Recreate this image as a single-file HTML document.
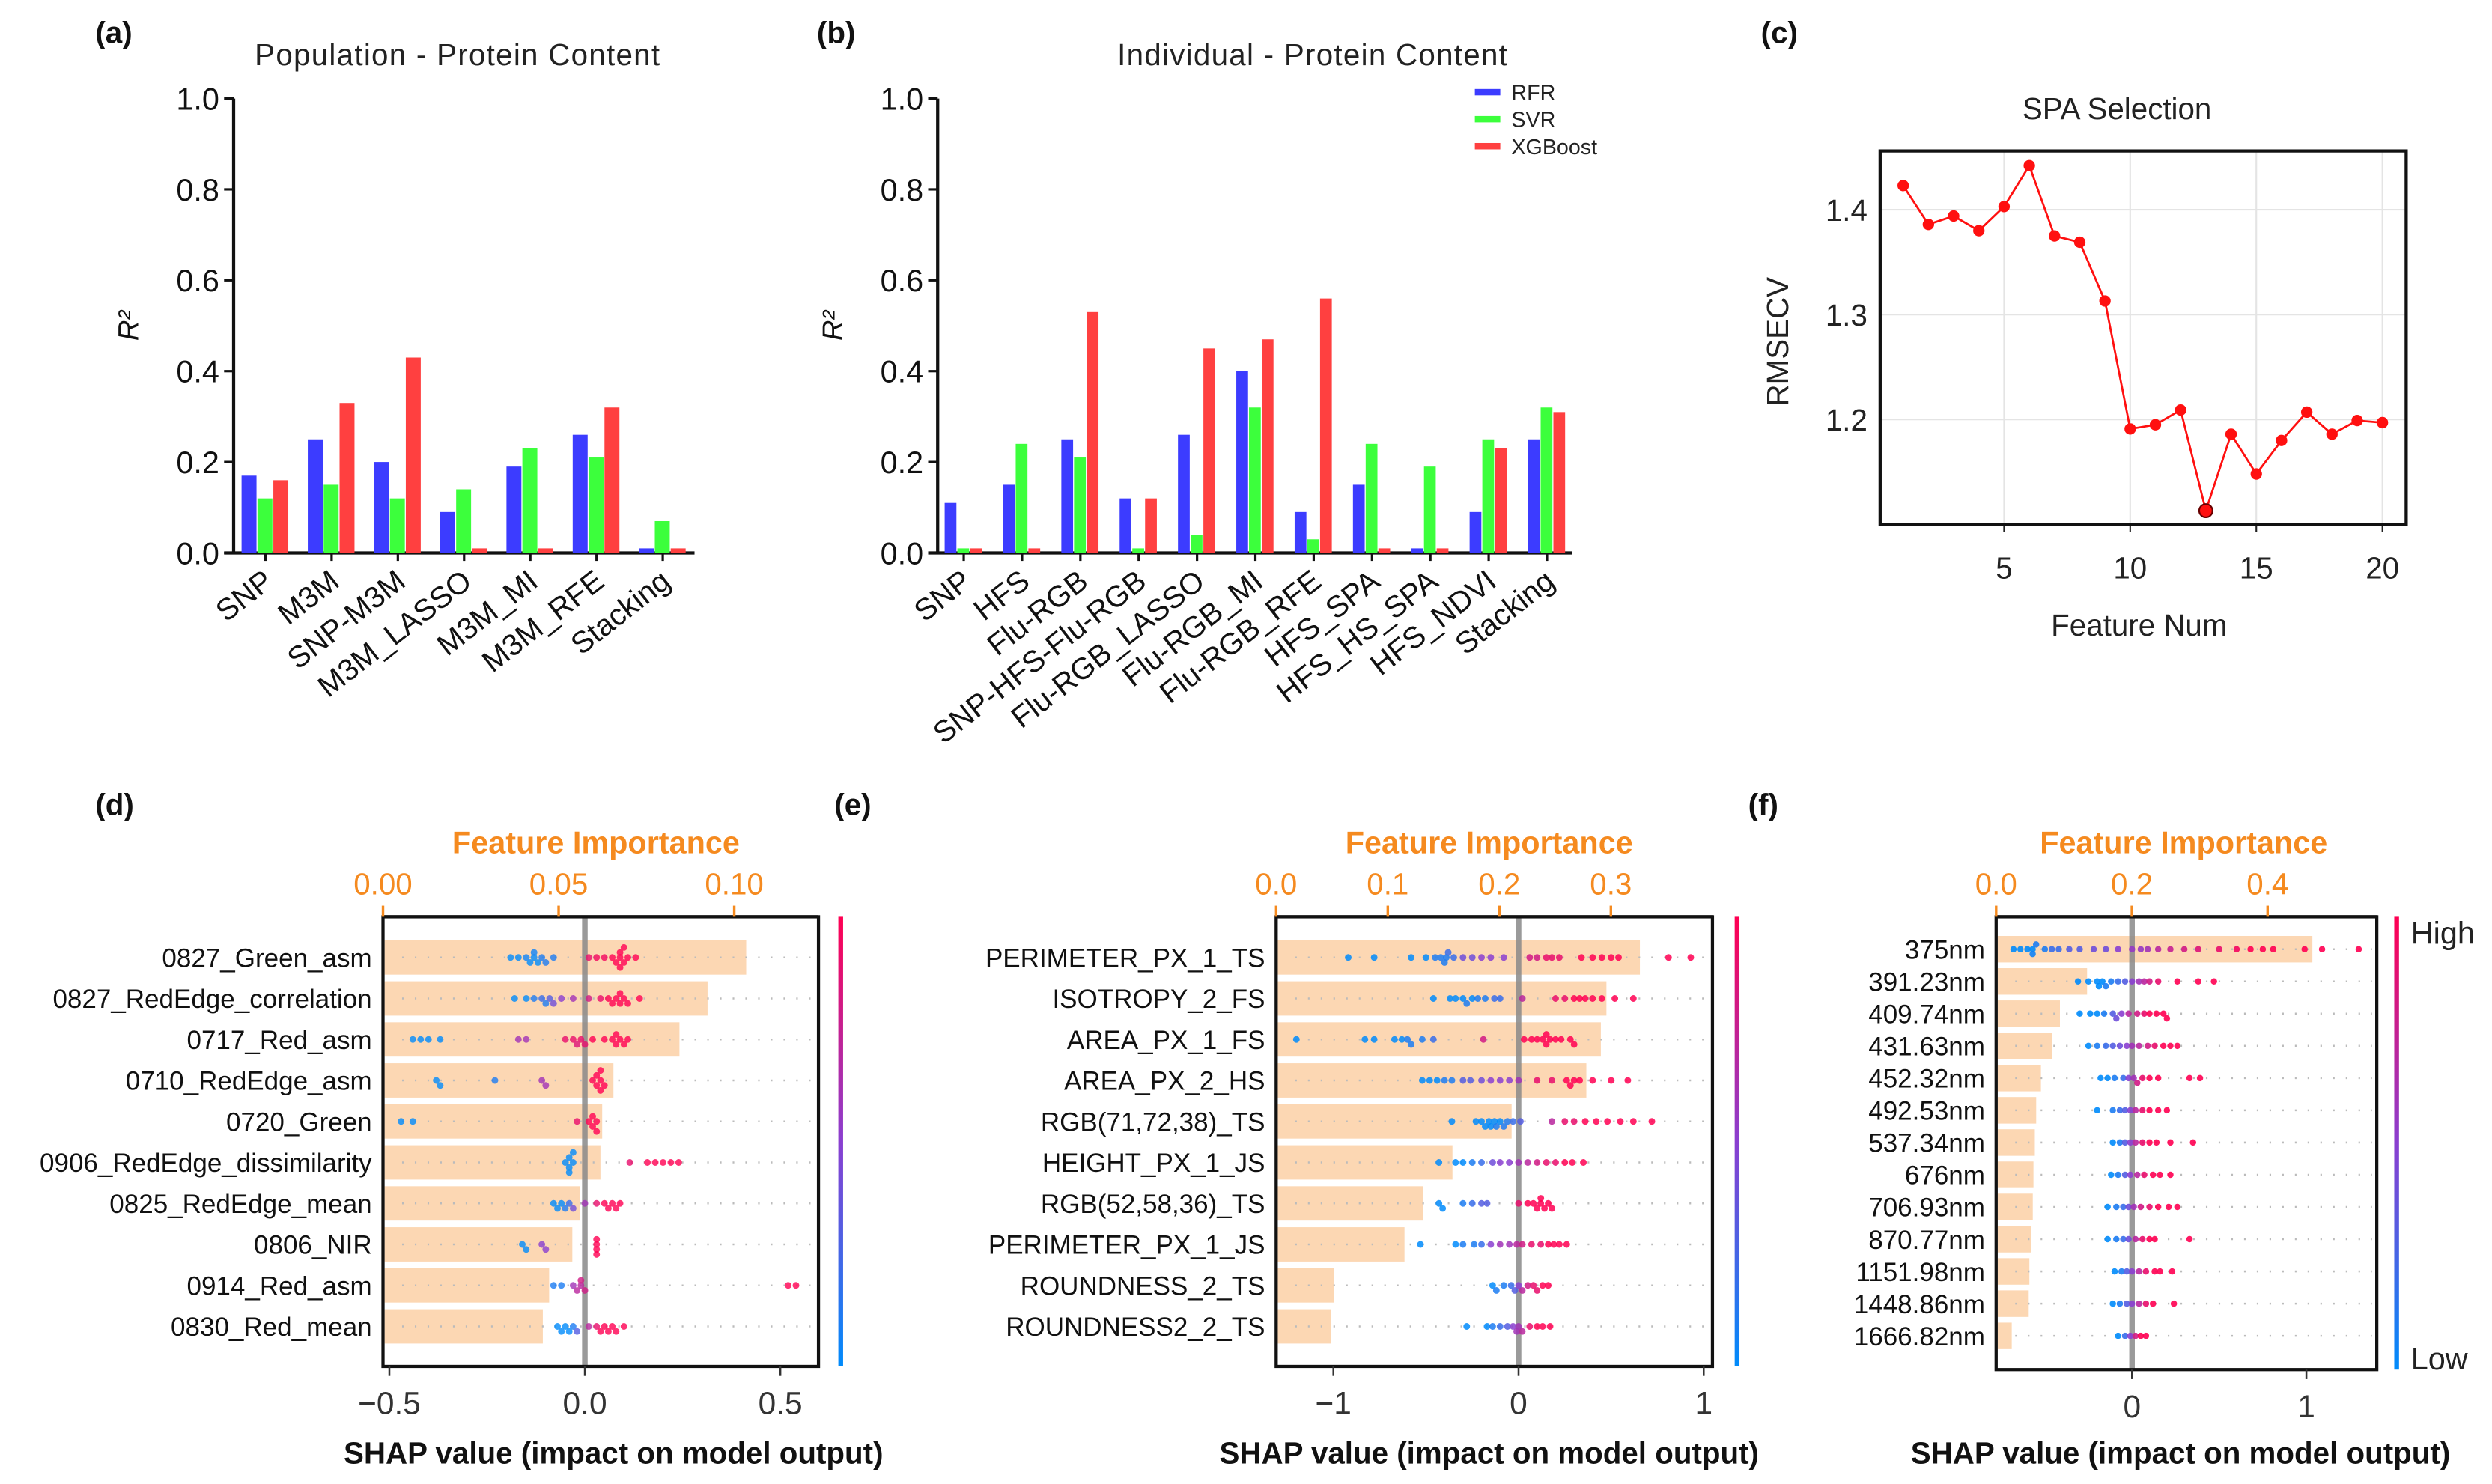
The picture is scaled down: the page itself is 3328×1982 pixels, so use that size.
<!DOCTYPE html>
<html><head><meta charset="utf-8"><title>Protein content figure</title>
<style>
html,body{margin:0;padding:0;background:#fff;}
svg{display:block;font-family:"Liberation Sans",sans-serif;}
</style></head>
<body>
<svg id="fig" xmlns="http://www.w3.org/2000/svg" width="3328" height="1982" viewBox="0 0 1568 934" preserveAspectRatio="none">
<defs>
<linearGradient id="cbar" x1="0" y1="0" x2="0" y2="1">
<stop offset="0" stop-color="#ff0052"/><stop offset="0.5" stop-color="#8a3fd0"/><stop offset="1" stop-color="#008bfb"/>
</linearGradient>
</defs>
<rect x="0" y="0" width="1568" height="934" fill="#fff"/>
<g font-weight="bold" font-size="19" fill="#111">
<text x="60" y="27">(a)</text>
<text x="514" y="27">(b)</text>
<text x="1108" y="27">(c)</text>
<text x="60" y="513">(d)</text>
<text x="525" y="513">(e)</text>
<text x="1100" y="513">(f)</text>
</g>
<g id="pa"></g>
<g id="pb"></g>
<g id="pc"></g>
<g id="pd"></g>
<g id="pe"></g>
<g id="pf"></g>
</svg>
<script>
// ---------- Panel (a) data ----------
const aCats = ["SNP","M3M","SNP-M3M","M3M_LASSO","M3M_MI","M3M_RFE","Stacking"];
const aRFR = [0.17,0.25,0.20,0.09,0.19,0.26,0.01];
const aSVR = [0.12,0.15,0.12,0.14,0.23,0.21,0.07];
const aXGB = [0.16,0.33,0.43,0.01,0.01,0.32,0.01];
// ---------- Panel (b) data ----------
const bCats = ["SNP","HFS","Flu-RGB","SNP-HFS-Flu-RGB","Flu-RGB_LASSO","Flu-RGB_MI","Flu-RGB_RFE","HFS_SPA","HFS_HS_SPA","HFS_NDVI","Stacking"];
const bRFR = [0.11,0.15,0.25,0.12,0.26,0.40,0.09,0.15,0.01,0.09,0.25];
const bSVR = [0.01,0.24,0.21,0.01,0.04,0.32,0.03,0.24,0.19,0.25,0.32];
const bXGB = [0.01,0.01,0.53,0.12,0.45,0.47,0.56,0.01,0.01,0.23,0.31];
const barTicks = [0.0,0.2,0.4,0.6,0.8,1.0];
// ---------- Panel (c) data ----------
const cFeat = [1,2,3,4,5,6,7,8,9,10,11,12,13,14,15,16,17,18,19,20];
const cRMSECV = [1.423,1.386,1.394,1.380,1.403,1.442,1.375,1.369,1.313,1.191,1.195,1.209,1.113,1.186,1.148,1.180,1.207,1.186,1.199,1.197];
const cXTicks = [5,10,15,20];
const cYTicks = [1.2,1.3,1.4];
// ---------- Panel (d) data ----------
const dLabels = ["0827_Green_asm","0827_RedEdge_correlation","0717_Red_asm","0710_RedEdge_asm","0720_Green","0906_RedEdge_dissimilarity","0825_RedEdge_mean","0806_NIR","0914_Red_asm","0830_Red_mean"];
const dImportance = [0.1034,0.0924,0.0844,0.0656,0.0624,0.0619,0.0561,0.0539,0.0473,0.0455];
const dImpTicks = [0.00,0.05,0.10];
const dImpTickLabels = ["0.00","0.05","0.10"];
const dShapTicks = [-0.5,0.0,0.5];
const dShapTickLabels = ["\u22120.5","0.0","0.5"];
const dPoints = [
[[-0.19,0],[-0.17,0],[-0.15,0.05],[-0.14,0],[-0.13,0],[-0.13,0.05],[-0.12,0],[-0.11,0.1],[-0.1,0.1],[-0.08,0.1],[0.01,0.9],[0.03,0.95],[0.05,0.95],[0.07,1],[0.08,1],[0.09,1],[0.09,1],[0.09,1],[0.1,1],[0.1,1],[0.11,1],[0.13,1]],
[[-0.18,0],[-0.15,0],[-0.13,0.1],[-0.11,0.2],[-0.1,0.1],[-0.09,0.3],[-0.08,0.4],[-0.06,0.5],[-0.03,0.6],[0.01,0.8],[0.04,0.9],[0.06,1],[0.07,1],[0.08,1],[0.09,1],[0.09,1],[0.1,1],[0.11,1],[0.14,1]],
[[-0.44,0],[-0.42,0],[-0.4,0],[-0.37,0],[-0.17,0.6],[-0.15,0.6],[-0.05,0.9],[-0.03,0.9],[-0.02,0.85],[-0.01,0.9],[0.0,0.9],[0.02,1],[0.05,1],[0.07,1],[0.08,1],[0.08,1],[0.09,1],[0.1,1],[0.11,1]],
[[-0.38,0],[-0.37,0],[-0.23,0.1],[-0.11,0.6],[-0.1,0.6],[0.02,1],[0.03,1],[0.03,1],[0.04,1],[0.04,1],[0.04,1],[0.05,1]],
[[-0.47,0],[-0.44,0],[-0.02,0.9],[0.01,1],[0.02,1],[0.02,1],[0.03,1],[0.03,1]],
[[-0.05,0],[-0.04,0],[-0.04,0],[-0.04,0],[-0.03,0],[-0.03,0],[0.115,0.9],[0.16,1],[0.18,1],[0.2,1],[0.22,1],[0.24,1]],
[[-0.08,0],[-0.07,0],[-0.06,0],[-0.05,0.1],[-0.04,0.2],[-0.03,0.4],[0.0,0.6],[0.03,0.9],[0.05,1],[0.06,1],[0.07,1],[0.08,1],[0.09,1]],
[[-0.16,0],[-0.15,0],[-0.11,0.5],[-0.1,0.5],[0.03,1],[0.03,1],[0.03,1],[0.03,1]],
[[-0.08,0.1],[-0.06,0.1],[-0.03,0.6],[-0.02,0.7],[-0.01,0.7],[-0.01,0.8],[0.0,0.8],[0.52,1],[0.54,1]],
[[-0.07,0],[-0.06,0],[-0.05,0],[-0.04,0],[-0.03,0.1],[-0.02,0.3],[0.01,0.7],[0.03,0.9],[0.04,1],[0.05,1],[0.06,1],[0.07,1],[0.08,1],[0.1,1]]
];
// ---------- Panel (e) data ----------
const eLabels = ["PERIMETER_PX_1_TS","ISOTROPY_2_FS","AREA_PX_1_FS","AREA_PX_2_HS","RGB(71,72,38)_TS","HEIGHT_PX_1_JS","RGB(52,58,36)_TS","PERIMETER_PX_1_JS","ROUNDNESS_2_TS","ROUNDNESS2_2_TS"];
const eImportance = [0.326,0.296,0.291,0.278,0.211,0.158,0.132,0.115,0.052,0.049];
const eImpTicks = [0.0,0.1,0.2,0.3];
const eImpTickLabels = ["0.0","0.1","0.2","0.3"];
const eShapTicks = [-1,0,1];
const eShapTickLabels = ["\u22121","0","1"];
const ePoints = [
[[-0.92,0],[-0.78,0],[-0.58,0],[-0.5,0],[-0.45,0.1],[-0.42,0.1],[-0.4,0.1],[-0.39,0.1],[-0.38,0.2],[-0.35,0.2],[-0.3,0.4],[-0.25,0.4],[-0.2,0.5],[-0.15,0.5],[-0.08,0.5],[0.06,0.8],[0.1,0.8],[0.15,0.9],[0.18,0.9],[0.22,0.9],[0.34,1],[0.4,1],[0.45,1],[0.5,1],[0.54,1],[0.81,1],[0.93,1]],
[[-0.46,0],[-0.37,0],[-0.34,0],[-0.3,0],[-0.28,0.1],[-0.25,0],[-0.22,0.1],[-0.18,0.1],[-0.13,0.2],[-0.1,0.2],[0.02,0.7],[0.2,0.9],[0.25,0.9],[0.3,1],[0.33,1],[0.36,1],[0.4,1],[0.45,1],[0.52,1],[0.62,1]],
[[-1.2,0],[-0.83,0],[-0.78,0],[-0.67,0],[-0.63,0],[-0.6,0.1],[-0.58,0.1],[-0.52,0.1],[-0.46,0.2],[-0.19,0.8],[0.03,1],[0.07,1],[0.1,1],[0.13,1],[0.15,1],[0.15,1],[0.17,1],[0.2,1],[0.23,1],[0.28,1],[0.3,1]],
[[-0.52,0],[-0.48,0],[-0.44,0],[-0.4,0.1],[-0.36,0.1],[-0.3,0.3],[-0.26,0.3],[-0.2,0.4],[-0.15,0.5],[-0.1,0.5],[-0.05,0.5],[0.0,0.6],[0.1,0.9],[0.18,0.9],[0.26,1],[0.28,1],[0.3,1],[0.33,1],[0.4,1],[0.5,1],[0.59,1]],
[[-0.36,0],[-0.23,0],[-0.2,0],[-0.18,0],[-0.16,0],[-0.15,0],[-0.13,0],[-0.12,0.1],[-0.1,0],[-0.08,0.1],[-0.06,0.1],[-0.03,0.2],[0.01,0.3],[0.18,0.7],[0.25,0.9],[0.3,0.9],[0.36,1],[0.42,1],[0.48,1],[0.55,1],[0.62,1],[0.72,1]],
[[-0.43,0],[-0.34,0],[-0.3,0],[-0.25,0.1],[-0.2,0.2],[-0.14,0.4],[-0.1,0.5],[-0.05,0.5],[0.0,0.6],[0.05,0.7],[0.1,0.8],[0.15,0.9],[0.2,0.9],[0.25,1],[0.29,1],[0.35,1]],
[[-0.43,0],[-0.41,0],[-0.3,0.1],[-0.25,0.2],[-0.2,0.3],[-0.17,0.3],[0.0,0.9],[0.05,1],[0.08,1],[0.1,1],[0.12,1],[0.12,1],[0.14,1],[0.16,1],[0.18,1]],
[[-0.53,0],[-0.34,0],[-0.3,0.1],[-0.24,0.1],[-0.2,0.2],[-0.15,0.5],[-0.1,0.6],[-0.05,0.6],[-0.01,0.7],[0.02,0.8],[0.07,0.9],[0.12,0.9],[0.16,1],[0.19,1],[0.22,1],[0.26,1]],
[[-0.14,0],[-0.12,0.1],[-0.08,0.1],[-0.04,0.2],[-0.02,0.3],[0.0,0.5],[0.02,0.7],[0.05,0.8],[0.08,0.9],[0.1,0.9],[0.13,1],[0.16,1]],
[[-0.28,0],[-0.17,0],[-0.14,0.1],[-0.1,0.2],[-0.06,0.3],[-0.03,0.5],[0.0,0.6],[-0.01,0.6],[0.02,0.7],[0.06,0.9],[0.1,1],[0.13,1],[0.17,1]]
];
// ---------- Panel (f) data ----------
const fLabels = ["375nm","391.23nm","409.74nm","431.63nm","452.32nm","492.53nm","537.34nm","676nm","706.93nm","870.77nm","1151.98nm","1448.86nm","1666.82nm"];
const fImportance = [0.466,0.134,0.094,0.082,0.066,0.059,0.057,0.055,0.054,0.051,0.049,0.048,0.023];
const fImpTicks = [0.0,0.2,0.4];
const fImpTickLabels = ["0.0","0.2","0.4"];
const fShapTicks = [0,1];
const fShapTickLabels = ["0","1"];
const fPoints = [
[[-0.68,0],[-0.64,0],[-0.6,0],[-0.57,0],[-0.57,0.05],[-0.55,0.1],[-0.5,0.1],[-0.46,0.2],[-0.42,0.2],[-0.36,0.3],[-0.3,0.3],[-0.22,0.4],[-0.15,0.4],[-0.08,0.5],[0.0,0.55],[0.05,0.55],[0.09,0.6],[0.15,0.7],[0.22,0.75],[0.3,0.8],[0.38,0.85],[0.5,0.9],[0.6,0.95],[0.68,1],[0.75,1],[0.81,1],[0.99,1],[1.09,1],[1.3,1]],
[[-0.31,0],[-0.25,0],[-0.2,0],[-0.19,0],[-0.17,0],[-0.15,0.1],[-0.12,0.1],[-0.08,0.2],[-0.04,0.3],[0.0,0.5],[0.04,0.6],[0.07,0.7],[0.1,0.8],[0.15,0.9],[0.26,1],[0.38,1],[0.47,1]],
[[-0.3,0],[-0.24,0],[-0.2,0],[-0.16,0.1],[-0.11,0.3],[-0.09,0.4],[-0.06,0.5],[-0.02,0.7],[0.03,0.8],[0.07,0.9],[0.1,1],[0.14,1],[0.18,1],[0.2,1]],
[[-0.25,0],[-0.2,0.1],[-0.15,0.2],[-0.11,0.3],[-0.07,0.4],[-0.03,0.5],[0.0,0.6],[0.04,0.7],[0.09,0.8],[0.13,0.9],[0.18,1],[0.22,1],[0.26,1]],
[[-0.18,0],[-0.14,0],[-0.1,0.1],[-0.05,0.2],[-0.02,0.5],[0.01,0.6],[0.03,0.8],[0.06,0.9],[0.1,1],[0.15,1],[0.33,1],[0.39,1]],
[[-0.2,0],[-0.11,0.1],[-0.07,0.2],[-0.04,0.3],[-0.01,0.5],[0.02,0.7],[0.06,0.9],[0.1,1],[0.15,1],[0.2,1]],
[[-0.11,0],[-0.07,0.1],[-0.04,0.3],[-0.01,0.5],[0.02,0.7],[0.06,0.9],[0.1,1],[0.14,1],[0.22,1],[0.35,1]],
[[-0.12,0],[-0.08,0.1],[-0.04,0.3],[-0.01,0.5],[0.03,0.7],[0.07,0.9],[0.12,1],[0.16,1],[0.22,1]],
[[-0.14,0],[-0.09,0.1],[-0.05,0.2],[-0.02,0.4],[0.01,0.6],[0.05,0.8],[0.1,0.9],[0.15,1],[0.21,1],[0.26,1]],
[[-0.14,0],[-0.09,0.1],[-0.05,0.2],[-0.02,0.4],[0.02,0.7],[0.06,0.9],[0.1,1],[0.13,1],[0.33,1]],
[[-0.1,0],[-0.06,0.1],[-0.03,0.3],[0.0,0.5],[0.04,0.7],[0.08,0.9],[0.13,1],[0.16,1],[0.23,1]],
[[-0.11,0],[-0.07,0.1],[-0.03,0.3],[0.0,0.5],[0.04,0.7],[0.08,0.9],[0.12,1],[0.24,1]],
[[-0.08,0],[-0.04,0.2],[-0.01,0.5],[0.02,0.8],[0.05,1],[0.08,1]]
];

const NS = "http://www.w3.org/2000/svg";
function mk(tag, attrs, parent){
  const e = document.createElementNS(NS, tag);
  for (const k in attrs) e.setAttribute(k, attrs[k]);
  parent.appendChild(e);
  return e;
}
function txt(parent, x, y, s, attrs){
  const t = mk("text", Object.assign({x:x, y:y}, attrs||{}), parent);
  t.textContent = s;
  return t;
}

// ---------- Bar charts ----------
function barChart(gid, title, titleX, cats, rfr, svr, xgb, axisX, axisEnd, c0, step, bw, legend){
  const g = document.getElementById(gid);
  const y0 = 348, y1 = 62;
  const yS = v => y0 - v*(y0-y1);
  const t = txt(g, titleX, 41, title, {"font-size":19,"text-anchor":"middle",fill:"#222","letter-spacing":"0.6"});
  
  
  const ya = mk("line", {x1:axisX, y1:y1, x2:axisX, y2:y0, stroke:"#111","stroke-width":2}, g);
  
  
  const xa = mk("line", {x1:axisX-6, y1:y0, x2:axisEnd, y2:y0, stroke:"#111","stroke-width":2}, g);
  
  
  barTicks.forEach(v => {
    const tk = mk("line", {x1:axisX-6, y1:yS(v), x2:axisX, y2:yS(v), stroke:"#111","stroke-width":1.5}, g);
    
    
    const tl = txt(g, axisX-9, yS(v)+7, v.toFixed(1), {"font-size":19.5,"text-anchor":"end",fill:"#111"});
    
    
  });
  const yl = txt(g, 0, 0, "R²", {"font-size":18,"font-style":"italic",fill:"#111","text-anchor":"middle",transform:`translate(${axisX-60},205) rotate(-90)`});
  
  
  const series = [[rfr,"#3c3cff"],[svr,"#3cff3c"],[xgb,"#ff4040"]];
  cats.forEach((c, i) => {
    const cx = c0 + i*step;
    series.forEach((s, j) => {
      const v = s[0][i];
      const b = mk("rect", {x:cx-1.5*bw+j*bw, y:yS(v), width:bw-0.6, height:y0-yS(v), fill:s[1]}, g);
      
      
    });
    const tk = mk("line", {x1:cx, y1:y0, x2:cx, y2:y0+5, stroke:"#111","stroke-width":1.5}, g);
    
    
    const tl = txt(g, 0, 0, c, {"font-size":19,"text-anchor":"end",fill:"#111",transform:`translate(${cx+6},${y0+20}) rotate(-38)`});
    
    
  });
  if (legend){
    const names = ["RFR","SVR","XGBoost"];
    names.forEach((n, j) => {
      const ly = 58 + j*17;
      const sw = mk("rect", {x:928, y:ly-2, width:16, height:4, fill:series[j][1]}, g);
      
      
      const lt = txt(g, 951, ly+5, n, {"font-size":13.5,fill:"#222"});
      
      
    });
  }
}
barChart("pa", "Population - Protein Content", 288, aCats, aRFR, aSVR, aXGB, 147, 437, 167, 41.67, 10, false);
barChart("pb", "Individual - Protein Content", 826, bCats, bRFR, bSVR, bXGB, 590, 989, 606.4, 36.7, 8, true);

// ---------- Line chart (c) ----------
(function(){
  const g = document.getElementById("pc");
  const L = 1183, R = 1514, T = 95, B = 330;
  const xS = n => 1261 + (n-5)*15.87;
  const yS = v => 132 + (1.4 - v)*660;
  const t = txt(g, 1332, 75, "SPA Selection", {"font-size":19,"text-anchor":"middle",fill:"#222"});
  
  
  cXTicks.forEach(v => {
    const gl = mk("line", {x1:xS(v), y1:T, x2:xS(v), y2:B, stroke:"#e4e4e4","stroke-width":1}, g);
    
    
    const tk = mk("line", {x1:xS(v), y1:B, x2:xS(v), y2:B+5, stroke:"#222","stroke-width":1}, g);
    
    
    const tl = txt(g, xS(v), B+34, String(v), {"font-size":19,"text-anchor":"middle",fill:"#222"});
    
    
  });
  cYTicks.forEach(v => {
    const gl = mk("line", {x1:L, y1:yS(v), x2:R, y2:yS(v), stroke:"#e4e4e4","stroke-width":1}, g);
    
    
    const tl = txt(g, L-8, yS(v)+7, v.toFixed(1), {"font-size":19,"text-anchor":"end",fill:"#222"});
    
    
  });
  const box = mk("rect", {x:L, y:T, width:R-L, height:B-T, fill:"none", stroke:"#111","stroke-width":2}, g);
  
  
  const pts = cFeat.map((n,i) => xS(n)+","+yS(cRMSECV[i])).join(" ");
  const pl = mk("polyline", {points:pts, fill:"none", stroke:"#ff1010","stroke-width":1.3}, g);
  
  
  let minI = 0;
  cRMSECV.forEach((v,i) => { if (v < cRMSECV[minI]) minI = i; });
  cFeat.forEach((n,i) => {
    const pt = mk("circle", {cx:xS(n), cy:yS(cRMSECV[i]), r: i===minI?4.2:3.6, fill:"#ff1010", stroke: i===minI?"#600":"none","stroke-width":1}, g);
    
    
  });
  const yl = txt(g, 0, 0, "RMSECV", {"font-size":19,"text-anchor":"middle",fill:"#222",transform:"translate(1125,215) rotate(-90)"});
  
  
  const xl = txt(g, 1346, 400, "Feature Num", {"font-size":19,"text-anchor":"middle",fill:"#222"});
  
  
})();

// ---------- SHAP panels ----------
function shapColor(c){
  const a = [0,139,251], m = [138,63,208], b = [255,0,82];
  let p, q, t;
  if (c < 0.5){ p = a; q = m; t = c/0.5; } else { p = m; q = b; t = (c-0.5)/0.5; }
  const r = p.map((v,k) => Math.round(v + (q[k]-v)*t));
  return `rgb(${r[0]},${r[1]},${r[2]})`;
}
function shapPanel(cfg){
  const g = document.getElementById(cfg.id);
  const {L, R, T, B} = cfg;
  const xS = v => cfg.zero + v*cfg.unit;
  const iS = v => L + v*cfg.impPx;
  cfg.labels.forEach((lab, i) => {
    const cy = cfg.row0 + i*cfg.rowStep;
    const bar = mk("rect", {x:L+1, y:cy-cfg.barH/2, width:Math.max(0,iS(cfg.imp[i])-L-1), height:cfg.barH, fill:"#fcd7b3"}, g);
    
    
    const dl = mk("line", {x1:L+12, y1:cy, x2:R-3, y2:cy, stroke:"#bbb","stroke-width":1.2,"stroke-dasharray":"1 7"}, g);
    
    
    const tl = txt(g, cfg.labelX, cy+6, lab, {"font-size":cfg.labelSize,"text-anchor":"end",fill:"#111"});
    
    
  });
  const zl = mk("line", {x1:xS(0), y1:T, x2:xS(0), y2:B, stroke:"#888","stroke-width":3.5,"stroke-opacity":0.85}, g);
  
  
  const rad = cfg.dotR;
  cfg.points.forEach((row, i) => {
    const cy = cfg.row0 + i*cfg.rowStep;
    const placed = [];
    row.forEach(p => {
      const x = xS(p[0]);
      let k = 0, off = 0;
      while (true){
        off = (k===0) ? 0 : ((k%2===1)?1:-1)*Math.ceil(k/2)*rad*1.5;
        const clash = placed.some(q => Math.abs(q[0]-x) < rad*1.6 && Math.abs(q[1]-off) < rad*1.4);
        if (!clash || k > 8) break;
        k++;
      }
      placed.push([x, off]);
      const d = mk("circle", {cx:x, cy:cy+off, r:rad, fill:shapColor(p[1]),"fill-opacity":cfg.dotOpacity}, g);
      
      
    });
  });
  const box = mk("rect", {x:L, y:T, width:R-L, height:B-T, fill:"none", stroke:"#111","stroke-width":2}, g);
  
  
  const oa = mk("line", {x1:L, y1:T, x2:R, y2:T, stroke:"#111","stroke-width":2}, g);
  
  
  cfg.impTicks.forEach((v, k) => {
    const tk = mk("line", {x1:iS(v), y1:T-7, x2:iS(v), y2:T, stroke:"#f58a1f","stroke-width":1.6}, g);
    
    
    const tl = txt(g, iS(v), T-14, cfg.impTickLabels[k], {"font-size":19,"text-anchor":"middle",fill:"#f58a1f"});
    
    
  });
  const it = txt(g, cfg.impTitleX, 537, "Feature Importance", {"font-size":19.5,"font-weight":"bold","text-anchor":"middle",fill:"#f58a1f"});
  
  
  cfg.shapTicks.forEach((v, k) => {
    const tk = mk("line", {x1:xS(v), y1:B, x2:xS(v), y2:B+6, stroke:"#333","stroke-width":1.2}, g);
    
    
    const tl = txt(g, xS(v), B+30, cfg.shapTickLabels[k], {"font-size":20,"text-anchor":"middle",fill:"#333"});
    
    
  });
  const st = txt(g, cfg.shapTitleX, 921, "SHAP value (impact on model output)", {"font-size":19,"font-weight":"bold","text-anchor":"middle",fill:"#111"});
  
  
  const cb = mk("rect", {x:cfg.cbX-1.5, y:T, width:3, height:B-T, fill:"url(#cbar)"}, g);
  
  
  if (cfg.cbLabels){
    const hi = txt(g, cfg.cbX+9, T+17, "High", {"font-size":19.5,fill:"#222"});
    
    
    const lo = txt(g, cfg.cbX+9, B, "Low", {"font-size":19.5,fill:"#222"});
    
    
  }
}
shapPanel({id:"pd", L:241, R:515, T:577, B:860, row0:602.6, rowStep:25.8, barH:21.6,
  zero:368, unit:246, impPx:110.5/0.05, labels:dLabels, imp:dImportance, points:dPoints,
  impTicks:dImpTicks, impTickLabels:dImpTickLabels, shapTicks:dShapTicks, shapTickLabels:dShapTickLabels,
  labelX:234, labelSize:16.5, cbX:529, impTitleX:375, shapTitleX:386, dotR:2.1, dotOpacity:0.8, cbLabels:false});
shapPanel({id:"pe", L:803, R:1077.5, T:577, B:860, row0:602.6, rowStep:25.8, barH:21.6,
  zero:955.5, unit:116.5, impPx:70.2/0.1, labels:eLabels, imp:eImportance, points:ePoints,
  impTicks:eImpTicks, impTickLabels:eImpTickLabels, shapTicks:eShapTicks, shapTickLabels:eShapTickLabels,
  labelX:796, labelSize:16.5, cbX:1093, impTitleX:937, shapTitleX:937, dotR:2.1, dotOpacity:0.85, cbLabels:false});
shapPanel({id:"pf", L:1256, R:1495.5, T:577, B:862, row0:597.4, rowStep:20.28, barH:16.7,
  zero:1341.5, unit:109.7, impPx:85.4/0.2, labels:fLabels, imp:fImportance, points:fPoints,
  impTicks:fImpTicks, impTickLabels:fImpTickLabels, shapTicks:fShapTicks, shapTickLabels:fShapTickLabels,
  labelX:1249, labelSize:16.5, cbX:1508, impTitleX:1374, shapTitleX:1372, dotR:2.0, dotOpacity:0.9, cbLabels:true});
</script>
</body></html>
